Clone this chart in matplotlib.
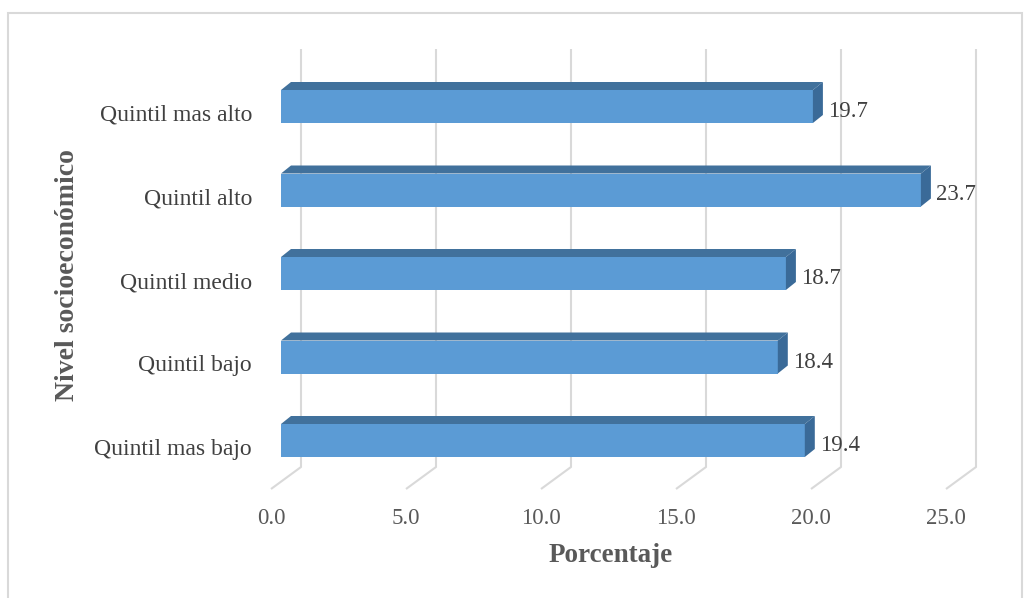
import matplotlib.pyplot as plt
import matplotlib.patches as mpatches
import numpy as np

# ==========================================
# DATA
# ==========================================
categorias = ["Quintil mas bajo", "Quintil bajo", "Quintil medio",
              "Quintil alto", "Quintil mas alto"]
porcentajes = [19.4, 18.4, 18.7, 23.7, 19.7]
ticks = [0.0, 5.0, 10.0, 15.0, 20.0, 25.0]

# ==========================================
# LAYOUT (pixel based pseudo 3D)
# ==========================================
W, H = 1029, 598
X0, PX_X = 281, 27.0      # pixel of value 0 on bar front plane, px per unit
Y0, PX_Y = 440.5, 83.5    # pixel centre of first bar, px between bars

def dx(px):
    return px / PX_X

def dy(px):
    return px / PX_Y

def ydata(img_y):
    return (Y0 - img_y) / PX_Y

FONT = "Liberation Serif"
FRONT = "#5B9BD5"
TOP = "#41719C"
SIDE = "#3A6A98"
GRID = "#D9D9D9"

fig = plt.figure(figsize=(W / 100, H / 100), dpi=100)
ax = fig.add_axes([0, 0, 1, 1])
ax.set_xlim(-X0 / PX_X, (W - X0) / PX_X)
ax.set_ylim(ydata(H), ydata(0))
ax.axis("off")

# outer frame
fig.patches.append(mpatches.Rectangle((8 / W, -0.05), (1022 - 8) / W, 1.05 - 13 / H,
                                      transform=fig.transFigure, fill=False,
                                      edgecolor=GRID, linewidth=1.5))

# gridlines: back wall + floor diagonal
for t in ticks:
    xb = t + dx(20)
    xf = t - dx(10)
    ax.plot([xb, xb, xf], [ydata(49), ydata(467), ydata(489)],
            color=GRID, linewidth=1.5, zorder=1, solid_capstyle="butt")
    ax.text(xf, ydata(518), f"{t:.1f}", ha="center", va="center",
            fontsize=16.5, family=FONT, color="#595959")

# bars
bh = dy(33)
ddx, ddy = dx(10), dy(8)
ypos = np.arange(len(categorias))
ax.barh(ypos, porcentajes, height=bh, left=0, color=FRONT, zorder=3)
for y, v in zip(ypos, porcentajes):
    top = y + bh / 2
    bot = y - bh / 2
    ax.add_patch(mpatches.Polygon([(0, top), (v, top), (v + ddx, top + ddy), (ddx, top + ddy)],
                                  closed=True, facecolor=TOP, edgecolor="none", zorder=3))
    ax.add_patch(mpatches.Polygon([(v, bot), (v + ddx, bot + ddy), (v + ddx, top + ddy), (v, top)],
                                  closed=True, facecolor=SIDE, edgecolor="none", zorder=3))
    ax.text(v + ddx + dx(5), y - dy(5), f"{v:.1f}", ha="left", va="center",
            fontsize=16.5, family=FONT, color="#404040")

# category labels
for y, c in zip(ypos, categorias):
    ax.text(-dx(29), y - dy(9), c, ha="right", va="center",
            fontsize=17, family=FONT, color="#404040")

# axis titles
ax.text((611 - X0) / PX_X, ydata(555), "Porcentaje", ha="center", va="center",
        fontsize=19.5, family=FONT, fontweight="bold", color="#595959")
ax.text((68 - X0) / PX_X, ydata(275), "Nivel socioeconómico", ha="center", va="center",
        rotation=90, fontsize=20, family=FONT, fontweight="bold", color="#595959")

fig.savefig("out.png", dpi=100)
